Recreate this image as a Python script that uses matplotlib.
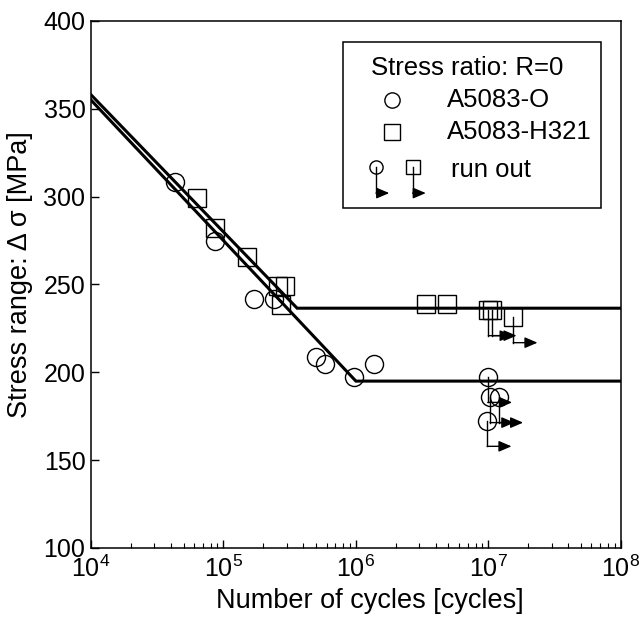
import numpy as np
import matplotlib
matplotlib.use('Agg')
import matplotlib.pyplot as plt
from matplotlib.transforms import Affine2D, ScaledTranslation

plt.rcParams['font.family'] = ['Liberation Sans', 'DejaVu Sans']
plt.rcParams['mathtext.default'] = 'regular'

# A5083-O (circles)
n_o = [4.3e4, 8.6e4, 1.7e5, 2.4e5, 5.0e5, 5.8e5, 9.6e5, 1.36e6]
s_o = [308.6, 275, 242, 241.5, 209, 204.5, 197.5, 204.5]
n_o_runout = [9.9e6, 1.03e7, 1.2e7, 9.8e6]
s_o_runout = [197.5, 186, 186, 172.5]

# A5083-H321 (squares)
n_h = [6.3e4, 8.7e4, 1.5e5, 2.6e5, 2.9e5, 2.7e5, 3.4e6, 4.9e6]
s_h = [299, 282, 265.5, 249, 249, 238.5, 239, 239]
n_h_runout = [1.0e7, 1.07e7, 1.54e7]
s_h_runout = [235.5, 235.5, 231.5]

# S-N design lines (start, knee, end)
line_o_n = [1e4, 1.0e6, 1e8]
line_o_s = [355, 195, 195]
line_h_n = [1e4, 3.6e5, 1e8]
line_h_s = [358, 236.5, 236.5]

fig = plt.figure(figsize=(6.42, 6.28), dpi=100)
ax = fig.add_axes([0.1417, 0.1274, 0.8253, 0.8392])
ax.set_xscale('log')
ax.set_xlim(1e4, 1e8)
ax.set_ylim(100, 400)

ax.plot(line_o_n, line_o_s, color='black', lw=2.2, solid_joinstyle='miter')
ax.plot(line_h_n, line_h_s, color='black', lw=2.2, solid_joinstyle='miter')

mk = dict(mfc='none', mec='black', mew=1.0, ls='none', ms=13)
ax.plot(n_o, s_o, marker='o', **mk)
ax.plot(n_h, s_h, marker='s', **mk)
ax.plot(n_o_runout, s_o_runout, marker='o', **mk)
ax.plot(n_h_runout, s_h_runout, marker='s', **mk)


def pt_offset(x, y, base):
    # offsets in points around the point (x, y) given in `base` coords
    return Affine2D().scale(1 / 72.) + fig.dpi_scale_trans + ScaledTranslation(x, y, base)


def runout_arrow(x, y, base, drop=18.5, length=17.5):
    tr = pt_offset(x, y, base)
    ax.plot([0, 0], [0, -drop], color='black', lw=1.0, transform=tr, clip_on=False)
    ax.annotate('', xy=(length, -drop), xycoords=tr, xytext=(0, -drop), textcoords=tr,
                arrowprops=dict(arrowstyle='-|>,head_length=0.7,head_width=0.3',
                                color='black', lw=1.0, shrinkA=0, shrinkB=0,
                                mutation_scale=11))


for x, y in zip(n_o_runout, s_o_runout):
    runout_arrow(x, y, ax.transData)
for x, y in zip(n_h_runout, s_h_runout):
    runout_arrow(x, y, ax.transData)

# legend box drawn by hand
ax.add_patch(plt.Rectangle((0.476, 0.6446), 0.487, 0.3164, transform=ax.transAxes,
                           fill=False, ec='black', lw=1.1))
fs_leg = 18.5
ax.text(0.528, 0.910, 'Stress ratio: R=0', transform=ax.transAxes, fontsize=fs_leg,
        va='center', ha='left')
ax.plot([0.5676], [0.850], marker='o', ms=11, mfc='none', mec='black', mew=1.0,
        transform=ax.transAxes)
ax.text(0.671, 0.850, 'A5083-O', transform=ax.transAxes, fontsize=fs_leg, va='center')
ax.plot([0.5676], [0.790], marker='s', ms=11, mfc='none', mec='black', mew=1.0,
        transform=ax.transAxes)
ax.text(0.671, 0.790, 'A5083-H321', transform=ax.transAxes, fontsize=fs_leg, va='center')
ax.plot([0.538], [0.7235], marker='o', ms=9.5, mfc='none', mec='black', mew=1.0,
        transform=ax.transAxes)
ax.plot([0.607], [0.7235], marker='s', ms=10.5, mfc='none', mec='black', mew=1.0,
        transform=ax.transAxes)
runout_arrow(0.538, 0.7235, ax.transAxes, drop=19, length=9.5)
runout_arrow(0.607, 0.7235, ax.transAxes, drop=19, length=9.5)
ax.text(0.679, 0.718, 'run out', transform=ax.transAxes, fontsize=fs_leg, va='center')

ax.set_yticks([100, 150, 200, 250, 300, 350, 400])
ax.tick_params(axis='both', which='both', direction='in', top=False, right=False,
               labelsize=18)
ax.tick_params(axis='both', which='major', length=6, width=1.0, pad=4)
ax.tick_params(axis='x', which='major', pad=5.5)
ax.tick_params(axis='x', which='minor', length=3.5, width=0.8)
for sp in ax.spines.values():
    sp.set_linewidth(1.1)

ax.set_xlabel('Number of cycles [cycles]', fontsize=19.5)
ax.set_ylabel('Stress range: Δ σ [MPa]', fontsize=19.5)
ax.xaxis.set_label_coords(0.527, -0.075)
ax.yaxis.set_label_coords(-0.11, 0.519)

fig.savefig('out.png', dpi=100)
